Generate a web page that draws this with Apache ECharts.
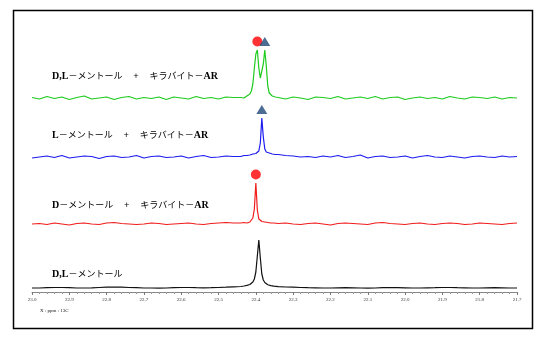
<!DOCTYPE html>
<html><head><meta charset="utf-8">
<script src="https://cdn.jsdelivr.net/npm/echarts@6/dist/echarts.min.js"></script>
<style>html,body{margin:0;padding:0;background:#fff}#c{width:544px;height:337px}</style>
</head><body><div id="c"></div>
<script>
// chemical shift (ppm, 13C)
var ppm = [
 23.00,22.98,22.96,22.94,22.92,22.90,22.88,22.86,22.84,22.82,22.80,22.78,22.76,22.74,22.72,22.70,22.68,22.66,22.64,22.62,22.60,22.58,22.56,22.54,22.52,22.50,22.48,22.46,
 22.440,22.436,22.432,22.428,22.424,22.420,22.416,22.412,22.408,22.404,22.400,22.396,22.392,22.388,22.384,22.380,22.376,22.372,22.368,22.364,22.360,22.356,22.352,22.348,
 22.34,22.32,22.30,22.28,22.26,22.24,22.22,22.20,22.18,22.16,22.14,22.12,22.10,22.08,22.06,22.04,22.02,22.00,21.98,21.96,21.94,21.92,21.90,21.88,21.86,21.84,21.82,21.80,21.78,21.76,21.74,21.72,21.70
];
// intensities (relative, arbitrary units)
var dlMentholCSA = [
 0.5,-1,1.5,-0.5,1,-1.5,0.5,2,-1,0,1,-1.5,0.5,1.5,-1,0.5,-0.5,1,-1.5,1,0,-1,1.5,-0.5,0.5,-1,1,0.5,
 0.5,1,0,1.5,2,3,4,7,14,30,44,48,30,20,22,34,48,32,12,5,3,2,1.5,1,
 0.5,-1,1,0,-1.5,1,0.5,-0.5,1.5,-1,0,1,-0.5,1.5,-1,0.5,1,-1.5,0,1,-0.5,0.5,-1,1.5,0,-1,1,0.5,-0.5,1,-1,0.5,0
];
var lMentholCSA = [
 -1,0,1,-0.5,1.5,-1,0,1,0.5,-1.5,0.5,1,-0.5,0,1.5,-1,0.5,1,-0.5,0,1,-1,0.5,1.5,-0.5,0,1,0.5,
 0.5,1,1.5,1,1.5,2,2,2.5,3,3,3.5,4,6,14,39,20,8,5,4.5,4,3.5,3,3,2.5,
 2.5,1.5,1,0,0.5,-0.5,1,0,1.5,-0.5,0.5,2,-1,0.5,1,-0.5,0,1,-1,0.5,1.5,0,-0.5,1,0,-1,0.5,1,0,-0.5,1,0,0.5
];
var dMentholCSA = [
 0,0.5,-0.5,1,0,-1,0.5,1,0,-0.5,1,1.5,0.5,0,-0.5,0,1,0.5,-0.5,0,0.5,1,0,-0.5,0.5,1,1.5,1,
 1,1.5,1.5,1,1,1.5,2,3,6,15,41,14,5,3,2.5,2,2,1.5,1.5,1,1,1.5,1,1,
 0.5,1,0,-0.5,0.5,1,0,-1,0.5,1,0.5,0,-0.5,1,1.5,0.5,0,-0.5,0.5,1,0,-0.5,0.5,1,0.5,-0.5,0,1,0.5,0,-0.5,0.5,1
];
var dlMenthol = [
 0,0,0.3,0.5,0.5,0.3,0,0,0.2,0.5,0.8,1,0.8,0.5,0.3,0,0,-0.2,0,0.3,0.5,0.5,0.3,0.2,0.3,0.5,0.8,1.2,
 1.5,1.7,2,2.3,2.6,3,3.5,4.5,6,9,16,32,48,30,14,8,5.5,4,3.3,2.8,2.4,2,1.8,1.6,
 1.3,1,0.8,0.5,0.3,0.2,0,0,0.2,0.3,0.2,0,-0.2,0,0.3,0.5,0.4,0.2,0,0,0.2,0.3,0.5,0.5,0.3,0.2,0,0,0.2,0.3,0.2,0,0
];
var traceNames = ['D,L－メントール　 + 　キラバイト－AR','L－メントール　 + 　キラバイト－AR','D－メントール　 + 　キラバイト－AR','D,L－メントール'];
var xTickLabels = ['23.0','22.9','22.8','22.7','22.6','22.5','22.4','22.3','22.2','22.1','22.0','21.9','21.8','21.7'];
var axisTitle = 'X : ppm : 13C';

var traces = [dlMentholCSA, lMentholCSA, dMentholCSA, dlMenthol];
var offsets = [194, 135, 68, 4];
var colors = ['#1ecb1e', '#1c1cf0', '#f01c1c', '#111111'];
var peakMarks = [['circle','triangle'], ['triangle'], ['circle'], []];
var markColor = {circle:'#ff0000', triangle:'#1f4778'};
var labelY = [76, 135, 205, 274];

var series = [];
var circles = [], tris = [];
traces.forEach(function(t, k){
  var data = ppm.map(function(x, i){ return [x, t[i] + offsets[k]]; });
  series.push({type:'line', data:data, showSymbol:false, symbol:'none', lineStyle:{color:colors[k], width:1.2}, animation:false, z:2});
  var mx = Math.max.apply(null, t);
  var peaks = [];
  for (var i=1;i<t.length-1;i++){ if (t[i]>t[i-1] && t[i]>=t[i+1] && t[i]>0.5*mx) peaks.push(i); }
  peakMarks[k].forEach(function(m, j){
    var i = peaks[j];
    var pt = [ppm[i], t[i] + offsets[k] + 8.5];
    if (m==='circle') circles.push(pt); else tris.push(pt);
  });
});
series.push({type:'scatter', data:circles, symbol:'circle', symbolSize:10, itemStyle:{color:markColor.circle}, animation:false, z:5});
series.push({type:'scatter', data:tris, symbol:'triangle', symbolSize:[11,9], itemStyle:{color:markColor.triangle}, animation:false, z:5});

var graphics = [{type:'rect', shape:{x:13.5,y:10.5,width:519,height:318}, style:{fill:null, stroke:'#000', lineWidth:1.5}, silent:true}];
traceNames.forEach(function(n, k){
  var parts = n.split(/(D,L|AR|^L|^D)/).filter(function(s){return s.length;});
  var rich = parts.map(function(p){ return (p==='D,L'||p==='AR'||p==='L'||p==='D') ? '{s|'+p+'}' : '{j|'+p+'}'; }).join('');
  graphics.push({type:'text', x:52, y:labelY[k], style:{text:rich, verticalAlign:'middle',
    rich:{s:{fontFamily:'Liberation Serif', fontWeight:'bold', fontSize:10, fill:'#000'},
          j:{fontFamily:'Noto Sans CJK JP', fontSize:9, fill:'#000'}}}});
});
graphics.push({type:'text', x:40, y:311, style:{text:axisTitle, fontFamily:'Liberation Serif', fontSize:5, fill:'#222', verticalAlign:'middle'}});

var chart = echarts.init(document.getElementById('c'), null, {renderer:'canvas'});
chart.setOption({
  backgroundColor:'#fff',
  animation:false,
  grid:{left:32, right:27, top:32, bottom:45},
  xAxis:{type:'value', min:21.7, max:23.0, interval:0.1, inverse:true,
    axisLine:{show:true, lineStyle:{color:'#888', width:1}},
    axisTick:{show:true, length:3, inside:false, lineStyle:{color:'#777'}},
    minorTick:{show:true, splitNumber:5, length:2, lineStyle:{color:'#999'}},
    splitLine:{show:false},
    axisLabel:{fontSize:5, fontFamily:'Liberation Serif', color:'#333', margin:5, showMinLabel:true, showMaxLabel:true,
      formatter:function(v){ var s=v.toFixed(1); return xTickLabels.indexOf(s)>=0 ? s : ''; }}},
  yAxis:{type:'value', min:0, max:260, show:false},
  series:series,
  graphic:graphics
});
</script></body></html>
